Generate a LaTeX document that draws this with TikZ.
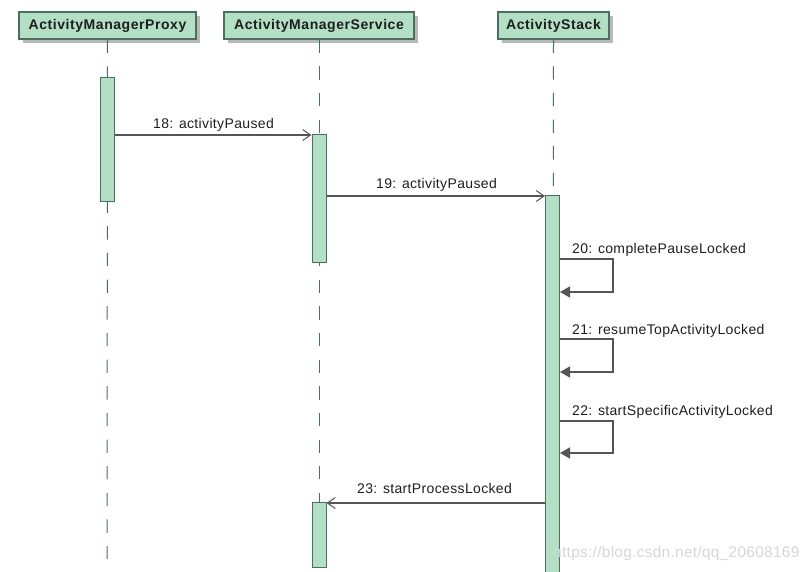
\documentclass[tikz,border=0pt]{standalone}
\usepackage{fontspec}
\setmainfont{Liberation Sans}
\newfontfamily\headfont[LetterSpace=4]{Liberation Sans}
\newfontfamily\labfont[LetterSpace=2.5]{Liberation Sans}
\newfontfamily\wmfont[LetterSpace=2]{Liberation Sans}
\usetikzlibrary{arrows.meta,shadows}
\definecolor{mint}{HTML}{B3DFC4}
\definecolor{edge}{HTML}{4B6E5E}
\definecolor{shade}{HTML}{B8B8B8}
\definecolor{msgc}{HTML}{555555}
\definecolor{txt}{HTML}{1E1E1E}
\begin{document}
\begin{tikzpicture}[x=1pt,y=-1pt,
  head/.style={draw=edge,line width=1.2pt,fill=mint,inner sep=0pt,minimum height=27pt,
    font=\headfont\bfseries\fontsize{14}{16}\selectfont,text=txt,
    drop shadow={shadow xshift=4pt,shadow yshift=-4pt,fill=shade,opacity=1}},
  bar/.style={draw=edge,line width=1pt,fill=mint,inner sep=0pt,minimum width=14pt},
  life/.style={draw=edge,line width=1pt,dash pattern=on 13.33pt off 13.33pt},
  call/.style={draw=msgc,line width=1.5pt,-{Straight Barb[length=8pt,width=11pt,line width=1pt]}},
  self/.style={draw=msgc,line width=1.5pt,-{Triangle[length=10pt,width=11pt]}},
  lab/.style={font=\labfont\fontsize{14}{16}\selectfont,text=txt,inner sep=0pt,anchor=base west}]
\useasboundingbox (0,0) rectangle (806,571);
% headers
\node[head,minimum width=177pt] (amp) at (107.5,25.5) {ActivityManagerProxy};
\node[head,minimum width=190pt] (ams) at (319,25.5) {ActivityManagerService};
\node[head,minimum width=111pt] (as) at (553.5,25.5) {ActivityStack};
% lifelines
\coordinate (ampend) at (107,559);
\coordinate (amsend) at (319,559);
\coordinate (asend) at (553,572);
\draw[life] (amp.south) -- (ampend);
\draw[life] (ams.south) -- (amsend);
\draw[life] (as.south) -- (asend);
% activation bars
\node[bar,minimum height=124pt] (p1) at (107,139) {};
\node[bar,minimum height=128pt] (s1) at (319,198) {};
\node[bar,minimum height=380pt] (k1) at (552.5,385) {};
\node[bar,minimum height=65pt] (s2) at (319,534.5) {};
% messages
\draw[call] (p1.east |- 0,135) -- (s1.west |- 0,135);
\node[lab] (l18) at (153,128) {18: activityPaused};
\draw[call] (s1.east |- 0,196) -- (k1.west |- 0,196);
\node[lab] (l19) at (376,188) {19: activityPaused};
\coordinate (c20) at (613,292);
\draw[self] (k1.east |- 0,259) -| (c20) -- (k1.east |- c20);
\node[lab] (l20) at (572,253) {20: completePauseLocked};
\coordinate (c21) at (613,372);
\draw[self] (k1.east |- 0,339) -| (c21) -- (k1.east |- c21);
\node[lab] (l21) at (572,334) {21: resumeTopActivityLocked};
\coordinate (c22) at (613,453);
\draw[self] (k1.east |- 0,421) -| (c22) -- (k1.east |- c22);
\node[lab] (l22) at (572,415) {22: startSpecificActivityLocked};
\draw[call] (k1.west |- 0,503) -- (s2.east |- 0,503);
\node[lab] (l23) at (357,493) {23: startProcessLocked};
% watermark
\node[lab,font=\wmfont\fontsize{15.4}{17}\selectfont,text=black!16] (wm) at (553,557) {https://blog.csdn.net/qq\_20608169};
\end{tikzpicture}
\end{document}
